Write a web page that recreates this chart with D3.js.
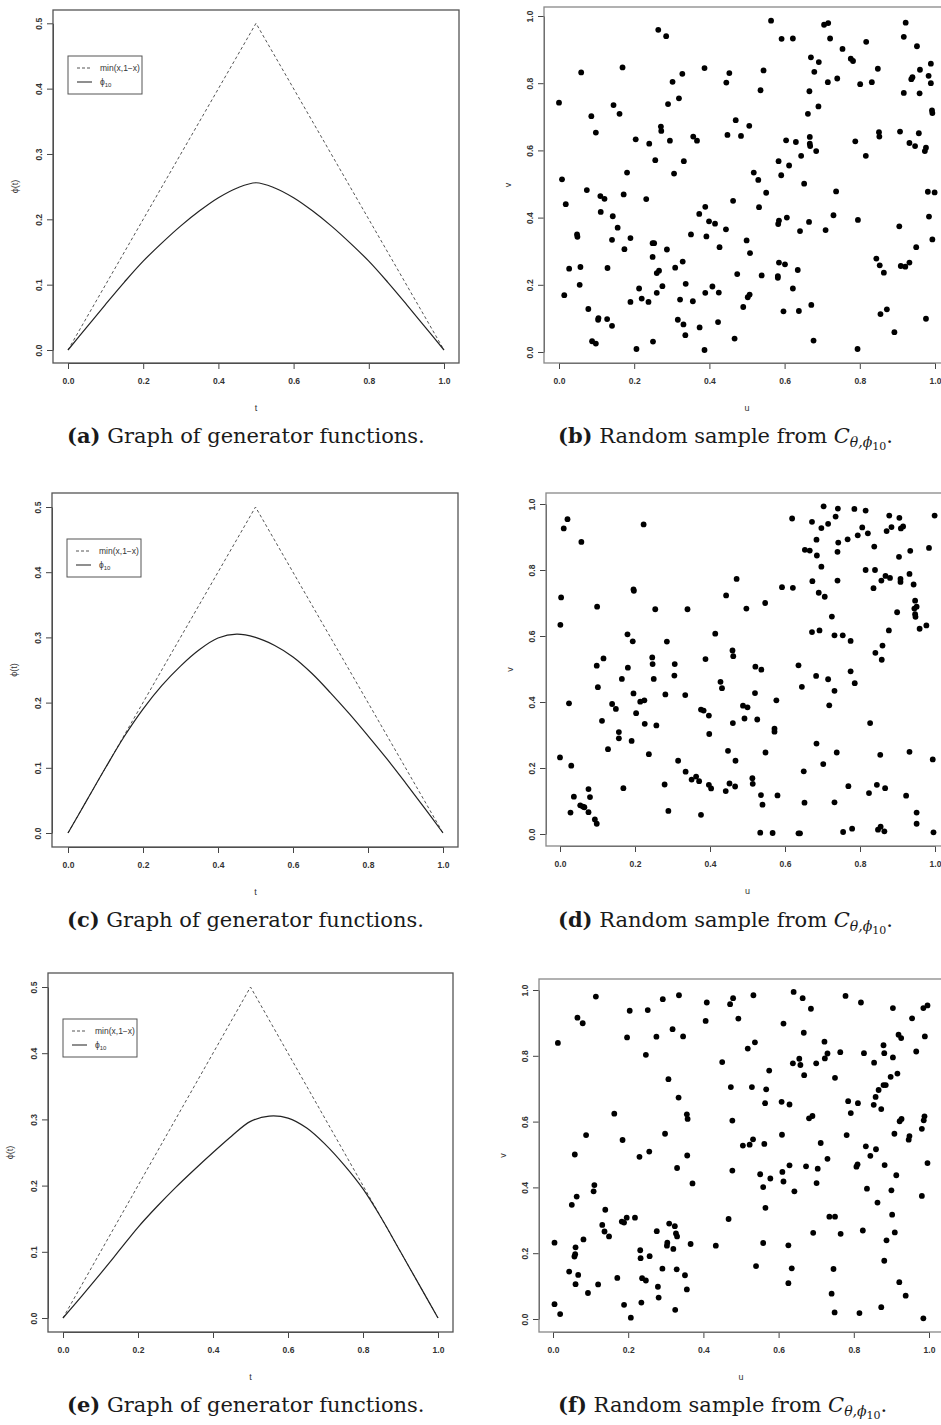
<!doctype html>
<html lang="en">
<head>
<meta charset="utf-8">
<title>Generator functions and random samples</title>
<script src="https://cdn.jsdelivr.net/npm/d3@7"></script>
<style>
  body { margin:0; background:#fff; }
  svg { display:block; }
  .tick text { font-family:"Liberation Sans", Arial, sans-serif; font-size:8.5px; font-weight:bold; fill:#333; }
  .axlab { font-family:"Liberation Sans", Arial, sans-serif; font-size:9px; fill:#333; }
  .leg { font-family:"Liberation Sans", Arial, sans-serif; font-size:8.5px; fill:#333; }
  .cap { font-family:"DejaVu Serif", "Liberation Serif", serif; font-size:21px; fill:#1a1a1a; }
</style>
</head>
<body>
<svg id="fig" width="941" height="1425"></svg>
<script>
// ---- data ----
const tGrid = [0,0.05,0.1,0.15,0.2,0.25,0.3,0.35,0.4,0.45,0.5,0.55,0.6,0.65,0.7,0.75,0.8,0.85,0.9,0.95,1];
const phiA = [0,0.035,0.07,0.104,0.136,0.164,0.19,0.213,0.233,0.248,0.256,0.248,0.233,0.213,0.19,0.164,0.136,0.104,0.07,0.035,0];
const phiC = [0,0.05,0.1,0.148,0.19,0.226,0.256,0.281,0.299,0.305,0.3,0.288,0.27,0.245,0.215,0.183,0.149,0.114,0.077,0.039,0];
const phiE = [0,0.033,0.067,0.102,0.137,0.168,0.197,0.224,0.25,0.275,0.297,0.305,0.302,0.287,0.262,0.231,0.195,0.15,0.1,0.05,0];
const minT = [0,0.5,1];
const minV = [0,0.5,0];

const phiTicks = [0,0.1,0.2,0.3,0.4,0.5];
const unitTicks = [0,0.2,0.4,0.6,0.8,1];

const sampleB = [[0.000,0.742],[0.008,0.514],[0.059,0.832],[0.074,0.482],[0.086,0.702],[0.098,0.653],[0.110,0.464],[0.121,0.456],[0.145,0.735],[0.161,0.709],[0.169,0.847],[0.172,0.469],[0.181,0.534],[0.204,0.633],[0.232,0.455],[0.240,0.620],[0.256,0.571],[0.264,0.959],[0.271,0.671],[0.272,0.658],[0.285,0.940],[0.290,0.738],[0.295,0.629],[0.302,0.804],[0.306,0.531],[0.319,0.755],[0.328,0.828],[0.332,0.568],[0.357,0.641],[0.367,0.629],[0.387,0.845],[0.445,0.802],[0.448,0.646],[0.453,0.830],[0.463,0.450],[0.470,0.690],[0.484,0.643],[0.506,0.673],[0.518,0.534],[0.530,0.512],[0.536,0.779],[0.544,0.838],[0.551,0.474],[0.564,0.986],[0.584,0.568],[0.591,0.526],[0.592,0.932],[0.604,0.630],[0.612,0.555],[0.622,0.933],[0.630,0.625],[0.644,0.584],[0.652,0.501],[0.662,0.709],[0.666,0.776],[0.667,0.640],[0.667,0.620],[0.668,0.613],[0.670,0.877],[0.679,0.834],[0.684,0.598],[0.690,0.731],[0.691,0.863],[0.705,0.974],[0.715,0.803],[0.716,0.979],[0.721,0.933],[0.737,0.478],[0.740,0.814],[0.754,0.902],[0.776,0.873],[0.782,0.866],[0.788,0.627],[0.801,0.797],[0.816,0.584],[0.817,0.923],[0.832,0.803],[0.848,0.843],[0.851,0.654],[0.852,0.641],[0.907,0.656],[0.917,0.938],[0.917,0.771],[0.922,0.980],[0.932,0.622],[0.937,0.812],[0.940,0.818],[0.947,0.613],[0.952,0.910],[0.957,0.651],[0.959,0.770],[0.960,0.840],[0.973,0.598],[0.976,0.608],[0.981,0.477],[0.983,0.822],[0.989,0.858],[0.989,0.800],[0.992,0.719],[0.993,0.711],[0.999,0.475],
  [0.018,0.440],[0.014,0.169],[0.027,0.248],[0.048,0.350],[0.049,0.343],[0.057,0.253],[0.055,0.200],[0.078,0.128],[0.088,0.032],[0.098,0.025],[0.105,0.101],[0.104,0.096],[0.111,0.417],[0.128,0.098],[0.129,0.250],[0.141,0.078],[0.141,0.334],[0.143,0.404],[0.156,0.370],[0.174,0.306],[0.190,0.339],[0.190,0.149],[0.206,0.009],[0.213,0.189],[0.220,0.159],[0.238,0.149],[0.249,0.324],[0.253,0.324],[0.249,0.283],[0.250,0.031],[0.260,0.235],[0.260,0.176],[0.266,0.242],[0.275,0.196],[0.287,0.305],[0.309,0.251],[0.316,0.096],[0.322,0.156],[0.329,0.269],[0.331,0.082],[0.336,0.050],[0.337,0.203],[0.351,0.350],[0.356,0.151],[0.373,0.411],[0.374,0.073],[0.387,0.006],[0.389,0.432],[0.389,0.176],[0.392,0.344],[0.399,0.389],[0.408,0.195],[0.415,0.382],[0.423,0.089],[0.425,0.177],[0.427,0.312],[0.444,0.365],[0.467,0.040],[0.474,0.232],[0.490,0.134],[0.499,0.332],[0.502,0.163],[0.507,0.171],[0.508,0.294],[0.532,0.431],[0.539,0.228],[0.582,0.226],[0.582,0.221],[0.583,0.381],[0.585,0.391],[0.585,0.266],[0.597,0.121],[0.601,0.261],[0.606,0.400],[0.622,0.189],[0.635,0.244],[0.638,0.122],[0.641,0.360],[0.665,0.387],[0.671,0.140],[0.677,0.034],[0.709,0.363],[0.730,0.407],[0.795,0.393],[0.794,0.009],[0.844,0.278],[0.853,0.258],[0.855,0.113],[0.864,0.236],[0.872,0.127],[0.892,0.059],[0.905,0.374],[0.909,0.256],[0.921,0.254],[0.932,0.266],[0.950,0.312],[0.976,0.099],[0.984,0.403],[0.993,0.335]];

const sampleD = [[0.003,0.717],[0.001,0.634],[0.010,0.926],[0.020,0.954],[0.057,0.885],[0.098,0.510],[0.099,0.689],[0.116,0.532],[0.180,0.605],[0.181,0.504],[0.194,0.584],[0.196,0.741],[0.197,0.737],[0.223,0.938],[0.246,0.535],[0.247,0.515],[0.254,0.681],[0.285,0.583],[0.306,0.515],[0.340,0.681],[0.388,0.530],[0.414,0.607],[0.443,0.723],[0.460,0.556],[0.462,0.539],[0.471,0.773],[0.497,0.683],[0.521,0.507],[0.537,0.498],[0.547,0.700],[0.592,0.748],[0.619,0.956],[0.621,0.746],[0.636,0.511],[0.653,0.861],[0.666,0.859],[0.672,0.946],[0.673,0.766],[0.672,0.612],[0.684,0.892],[0.685,0.844],[0.690,0.731],[0.692,0.617],[0.697,0.927],[0.697,0.810],[0.703,0.993],[0.706,0.719],[0.715,0.940],[0.725,0.659],[0.732,0.602],[0.735,0.962],[0.740,0.855],[0.740,0.768],[0.741,0.986],[0.742,0.883],[0.754,0.602],[0.767,0.893],[0.775,0.585],[0.785,0.985],[0.794,0.905],[0.806,0.929],[0.815,0.980],[0.815,0.800],[0.821,0.911],[0.836,0.745],[0.838,0.871],[0.840,0.800],[0.841,0.549],[0.857,0.768],[0.858,0.528],[0.860,0.571],[0.868,0.782],[0.871,0.918],[0.877,0.617],[0.878,0.965],[0.880,0.776],[0.884,0.930],[0.899,0.672],[0.904,0.840],[0.905,0.958],[0.908,0.773],[0.908,0.764],[0.909,0.926],[0.915,0.932],[0.932,0.788],[0.934,0.858],[0.943,0.756],[0.947,0.707],[0.945,0.683],[0.951,0.689],[0.947,0.666],[0.948,0.658],[0.959,0.622],[0.977,0.632],[0.984,0.867],[0.999,0.965],
  [0.000,0.232],[0.024,0.396],[0.030,0.207],[0.028,0.065],[0.037,0.113],[0.054,0.087],[0.061,0.083],[0.065,0.081],[0.076,0.136],[0.080,0.112],[0.076,0.066],[0.093,0.044],[0.098,0.031],[0.101,0.445],[0.112,0.343],[0.128,0.257],[0.139,0.394],[0.149,0.379],[0.157,0.309],[0.157,0.290],[0.165,0.470],[0.169,0.139],[0.191,0.282],[0.196,0.426],[0.203,0.366],[0.214,0.401],[0.225,0.405],[0.226,0.334],[0.237,0.242],[0.250,0.470],[0.257,0.329],[0.279,0.150],[0.281,0.423],[0.289,0.070],[0.305,0.480],[0.315,0.222],[0.334,0.421],[0.335,0.189],[0.351,0.165],[0.363,0.174],[0.371,0.160],[0.376,0.058],[0.376,0.377],[0.383,0.374],[0.397,0.359],[0.398,0.303],[0.397,0.149],[0.403,0.138],[0.428,0.461],[0.432,0.442],[0.442,0.130],[0.448,0.252],[0.452,0.153],[0.461,0.336],[0.468,0.222],[0.467,0.144],[0.488,0.389],[0.492,0.350],[0.500,0.384],[0.520,0.427],[0.526,0.347],[0.513,0.169],[0.514,0.152],[0.536,0.118],[0.540,0.089],[0.534,0.004],[0.548,0.247],[0.567,0.003],[0.572,0.319],[0.572,0.310],[0.577,0.405],[0.580,0.117],[0.636,0.002],[0.640,0.002],[0.645,0.446],[0.650,0.190],[0.652,0.095],[0.683,0.479],[0.684,0.274],[0.702,0.212],[0.715,0.469],[0.718,0.390],[0.732,0.434],[0.732,0.096],[0.738,0.247],[0.755,0.006],[0.769,0.145],[0.775,0.493],[0.779,0.016],[0.786,0.457],[0.824,0.124],[0.827,0.336],[0.845,0.149],[0.848,0.013],[0.854,0.240],[0.855,0.022],[0.865,0.008],[0.867,0.139],[0.923,0.116],[0.932,0.249],[0.951,0.065],[0.951,0.031],[0.994,0.226],[0.996,0.005]];

const sampleF = [[0.013,0.839],[0.058,0.500],[0.065,0.916],[0.079,0.899],[0.088,0.559],[0.114,0.980],[0.163,0.624],[0.185,0.544],[0.197,0.856],[0.204,0.937],[0.230,0.493],[0.247,0.803],[0.252,0.939],[0.256,0.509],[0.275,0.858],[0.292,0.972],[0.298,0.563],[0.307,0.729],[0.318,0.881],[0.334,0.673],[0.335,0.984],[0.346,0.859],[0.356,0.622],[0.358,0.608],[0.357,0.497],[0.406,0.906],[0.409,0.962],[0.450,0.781],[0.471,0.957],[0.473,0.705],[0.477,0.603],[0.479,0.975],[0.493,0.913],[0.505,0.527],[0.518,0.822],[0.523,0.530],[0.529,0.705],[0.532,0.546],[0.533,0.984],[0.537,0.841],[0.562,0.532],[0.564,0.656],[0.567,0.698],[0.575,0.755],[0.608,0.660],[0.609,0.560],[0.613,0.898],[0.629,0.652],[0.640,0.994],[0.638,0.777],[0.655,0.791],[0.658,0.772],[0.664,0.975],[0.667,0.870],[0.668,0.741],[0.681,0.610],[0.686,0.943],[0.690,0.617],[0.700,0.777],[0.712,0.535],[0.722,0.843],[0.723,0.792],[0.730,0.807],[0.730,0.487],[0.750,0.733],[0.764,0.811],[0.778,0.982],[0.781,0.559],[0.785,0.662],[0.792,0.626],[0.811,0.656],[0.819,0.962],[0.827,0.808],[0.832,0.525],[0.844,0.496],[0.853,0.651],[0.854,0.779],[0.858,0.675],[0.859,0.516],[0.866,0.696],[0.873,0.638],[0.879,0.832],[0.881,0.808],[0.879,0.711],[0.885,0.711],[0.898,0.736],[0.904,0.795],[0.904,0.945],[0.908,0.563],[0.916,0.746],[0.919,0.864],[0.926,0.854],[0.922,0.601],[0.927,0.608],[0.946,0.545],[0.948,0.556],[0.955,0.914],[0.966,0.813],[0.981,0.578],[0.985,0.945],[0.986,0.604],[0.988,0.616],[0.989,0.859],[0.996,0.953],
  [0.004,0.232],[0.004,0.045],[0.019,0.015],[0.043,0.144],[0.050,0.347],[0.057,0.190],[0.059,0.197],[0.060,0.218],[0.060,0.106],[0.063,0.372],[0.067,0.134],[0.081,0.242],[0.093,0.079],[0.108,0.388],[0.110,0.407],[0.120,0.105],[0.131,0.286],[0.137,0.266],[0.139,0.332],[0.149,0.251],[0.171,0.125],[0.183,0.296],[0.189,0.293],[0.189,0.043],[0.196,0.308],[0.207,0.004],[0.218,0.308],[0.232,0.209],[0.233,0.185],[0.235,0.050],[0.237,0.124],[0.247,0.117],[0.257,0.191],[0.276,0.267],[0.279,0.098],[0.281,0.065],[0.291,0.153],[0.303,0.223],[0.304,0.232],[0.309,0.290],[0.320,0.213],[0.324,0.282],[0.325,0.028],[0.327,0.260],[0.330,0.251],[0.329,0.151],[0.330,0.459],[0.351,0.133],[0.356,0.090],[0.366,0.228],[0.371,0.412],[0.433,0.223],[0.467,0.304],[0.477,0.451],[0.540,0.161],[0.551,0.440],[0.559,0.401],[0.559,0.231],[0.565,0.338],[0.578,0.427],[0.610,0.447],[0.613,0.418],[0.626,0.224],[0.626,0.109],[0.629,0.467],[0.635,0.154],[0.642,0.388],[0.673,0.464],[0.692,0.262],[0.701,0.413],[0.704,0.457],[0.735,0.311],[0.746,0.152],[0.741,0.077],[0.749,0.020],[0.750,0.311],[0.765,0.259],[0.807,0.463],[0.810,0.470],[0.815,0.018],[0.824,0.269],[0.835,0.396],[0.863,0.354],[0.873,0.036],[0.881,0.177],[0.882,0.468],[0.887,0.239],[0.900,0.391],[0.902,0.317],[0.909,0.263],[0.913,0.437],[0.921,0.112],[0.938,0.071],[0.981,0.374],[0.985,0.002],[0.996,0.474]];

// ---- layout: plot frame and pixel positions of the 0 / max ticks ----
const panels = [
  {kind:"phi", box:[53,10,459,363],  xr:[68,444], yr:[350,23.3], ymax:0.5, curve:phiA},
  {kind:"phi", box:[52,493,458,847], xr:[68,443], yr:[833,507],  ymax:0.5, curve:phiC},
  {kind:"phi", box:[48,973,453,1332],xr:[63,438], yr:[1318,987], ymax:0.5, curve:phiE},
  {kind:"uv",  box:[544,7,950,363],  xr:[559,935],yr:[352,16],   ymax:1,   pts:sampleB},
  {kind:"uv",  box:[546,493,950,846],xr:[560,935],yr:[834,504],  ymax:1,   pts:sampleD},
  {kind:"uv",  box:[539,979,950,1332],xr:[553,929],yr:[1319,990],ymax:1,   pts:sampleF}
];

const svg = d3.select("#fig");
const fmt = d3.format(".1f");

panels.forEach(p => {
  const [x0,y0,x1,y1] = p.box;
  const x = d3.scaleLinear().domain([0,1]).range(p.xr);
  const y = d3.scaleLinear().domain([0,p.ymax]).range(p.yr);
  const g = svg.append("g");

  // x axis
  const gx = g.append("g").attr("transform", `translate(0,${y1})`)
    .call(d3.axisBottom(x).tickValues(unitTicks).tickFormat(fmt).tickSize(6).tickSizeOuter(0).tickPadding(9));
  // y axis, labels turned like R
  const gy = g.append("g").attr("transform", `translate(${x0},0)`)
    .call(d3.axisLeft(y).tickValues(p.kind === "phi" ? phiTicks : unitTicks).tickFormat(fmt).tickSize(6).tickSizeOuter(0));
  gy.selectAll(".tick text").attr("x", null).attr("dy", null).attr("text-anchor", "middle")
    .attr("transform", "translate(-11,0) rotate(-90)");
  [gx, gy].forEach(a => { a.select(".domain").attr("stroke", "#444"); a.selectAll(".tick line").attr("stroke", "#444"); });

  // frame
  g.append("rect").attr("x", x0).attr("y", y0).attr("width", x1 - x0).attr("height", y1 - y0)
    .attr("fill", "none").attr("stroke", p.kind === "phi" ? "#555" : "#888").attr("stroke-width", 1.3);

  // axis titles
  const cx = (p.xr[0] + p.xr[1]) / 2, cy = (y0 + y1) / 2;
  g.append("text").attr("class", "axlab").attr("x", cx).attr("y", y1 + 48).attr("text-anchor", "middle")
    .text(p.kind === "phi" ? "t" : "u");
  g.append("text").attr("class", "axlab").attr("text-anchor", "middle")
    .attr("transform", `translate(${x0 - (p.kind === "phi" ? 35 : 33)},${cy}) rotate(-90)`)
    .text(p.kind === "phi" ? "ϕ(t)" : "v");

  if (p.kind === "phi") {
    const line = d3.line().x(d => x(d[0])).y(d => y(d[1]));
    g.append("path").datum(d3.zip(minT, minV)).attr("d", line)
      .attr("fill", "none").attr("stroke", "#555").attr("stroke-width", 1).attr("stroke-dasharray", "3,2.5");
    g.append("path").datum(d3.zip(tGrid, p.curve)).attr("d", line.curve(d3.curveCatmullRom))
      .attr("fill", "none").attr("stroke", "#222").attr("stroke-width", 1.2);

    // legend
    const lg = g.append("g").attr("transform", `translate(${x0 + 15},${y0 + 46})`);
    lg.append("rect").attr("width", 74).attr("height", 38).attr("fill", "#fff").attr("stroke", "#555").attr("stroke-width", 1);
    lg.append("line").attr("x1", 9).attr("x2", 24).attr("y1", 12).attr("y2", 12)
      .attr("stroke", "#555").attr("stroke-dasharray", "3,2");
    lg.append("line").attr("x1", 9).attr("x2", 24).attr("y1", 26).attr("y2", 26).attr("stroke", "#444").attr("stroke-width", 1.2);
    lg.append("text").attr("class", "leg").attr("x", 32).attr("y", 15).text("min(x,1\u2212x)");
    const t2 = lg.append("text").attr("class", "leg").attr("x", 32).attr("y", 29);
    t2.append("tspan").text("ϕ");
    t2.append("tspan").attr("dy", 2).attr("font-size", "6px").text("10");
  } else {
    g.selectAll("circle").data(p.pts).join("circle")
      .attr("cx", d => x(d[0])).attr("cy", d => y(d[1])).attr("r", 2.9).attr("fill", "#000");
  }
});

// ---- captions ----
const capRows = [443, 927, 1412];
const letters = [["(a)","(c)","(e)"],["(b)","(d)","(f)"]];
capRows.forEach((yy, i) => {
  const t1 = svg.append("text").attr("class", "cap").attr("x", 67).attr("y", yy);
  t1.append("tspan").attr("font-weight", "bold").text(letters[0][i]);
  t1.append("tspan").text(" Graph of generator functions.");

  const t2 = svg.append("text").attr("class", "cap").attr("x", 558).attr("y", yy);
  t2.append("tspan").attr("font-weight", "bold").text(letters[1][i]);
  t2.append("tspan").text(" Random sample from ");
  t2.append("tspan").attr("font-style", "italic").text("C");
  t2.append("tspan").attr("font-style", "italic").attr("font-size", "14px").attr("dy", 4).text("θ,ϕ");
  t2.append("tspan").attr("font-size", "11px").attr("dy", 3).text("10");
  t2.append("tspan").attr("dy", -7).text(".");
});
</script>
</body>
</html>
